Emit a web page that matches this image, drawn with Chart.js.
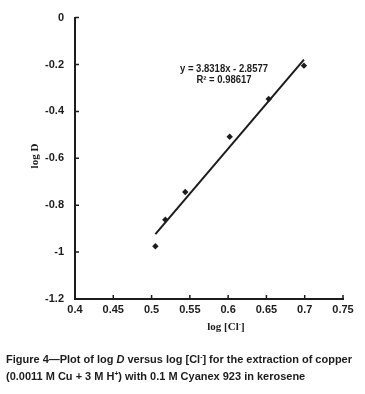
<!DOCTYPE html>
<html>
<head>
<meta charset="utf-8">
<script src="https://cdn.jsdelivr.net/npm/chart.js@4.4.0/dist/chart.umd.min.js"></script>
<style>
  body { margin: 0; background: #fff; }
  #wrap { width: 365px; height: 394px; }
</style>
</head>
<body>
<div id="wrap"><canvas id="myChart" width="365" height="394"></canvas></div>
<script>
// data
var logCl = [0.505, 0.518, 0.544, 0.602, 0.653, 0.699];
var logD = [-0.975, -0.862, -0.744, -0.508, -0.347, -0.205];
// linear trend line end points
var fitX = [0.505, 0.699];
var fitY = [-0.923, -0.179];
var fitText = ["y = 3.8318x - 2.8577", "R\u00B2 = 0.98617"];
var xTickValues = [0.4, 0.45, 0.5, 0.55, 0.6, 0.65, 0.7, 0.75];
var yTickValues = [0, -0.2, -0.4, -0.6, -0.8, -1, -1.2];

var ink = "#1c1c1c";

// draws runs of text [string, font, dy] and returns width
function runs(ctx, parts, x, y, draw) {
	var w = 0;
	for (var i = 0; i < parts.length; i++) {
		ctx.font = parts[i][1];
		if (draw) ctx.fillText(parts[i][0], x + w, y + (parts[i][2] || 0));
		w += ctx.measureText(parts[i][0]).width;
	}
	return w;
}

function plainNum(v) {
	return String(parseFloat(Number(v).toFixed(2)));
}

var extras = {
	id: "extras",
	afterDatasetsDraw: function(chart) {
		var ctx = chart.ctx;
		var xs = chart.scales.x, ys = chart.scales.y;
		var area = chart.chartArea;
		ctx.save();
		// inside tick marks
		ctx.strokeStyle = ink;
		ctx.lineWidth = 1.5;
		ctx.beginPath();
		xTickValues.forEach(function(v) {
			var px = xs.getPixelForValue(v);
			ctx.moveTo(px, area.bottom);
			ctx.lineTo(px, area.bottom - 4);
		});
		yTickValues.forEach(function(v) {
			var py = ys.getPixelForValue(v);
			ctx.moveTo(area.left, py);
			ctx.lineTo(area.left + 4, py);
		});
		ctx.stroke();

		// trend equation
		ctx.fillStyle = ink;
		ctx.textAlign = "center";
		ctx.textBaseline = "alphabetic";
		ctx.font = "bold 10px 'Liberation Sans', Arial, sans-serif";
		ctx.fillText(fitText[0], 224, 72, 88);
		ctx.fillText(fitText[1], 224, 82.5, 55);

		// axis titles
		ctx.textAlign = "left";
		var serif = "bold 11px 'Liberation Serif', 'Times New Roman', serif";
		var serifSup = "bold 7px 'Liberation Serif', 'Times New Roman', serif";
		var xt = [["log [Cl", serif], ["-", serifSup, -4], ["]", serif]];
		var w = runs(ctx, xt, 0, 0, false);
		runs(ctx, xt, 226 - w / 2, 330, true);

		ctx.save();
		ctx.translate(38, 156);
		ctx.rotate(-Math.PI / 2);
		ctx.textAlign = "center";
		ctx.font = serif;
		ctx.fillText("log D", 0, 0);
		ctx.restore();

		// caption
		var b = "bold 11.5px 'Liberation Sans', Arial, sans-serif";
		var bi = "italic bold 11.5px 'Liberation Sans', Arial, sans-serif";
		var sup = "bold 7px 'Liberation Sans', Arial, sans-serif";
		var line1 = [["Figure 4\u2014Plot of log ", b], ["D", bi], [" versus log [Cl", b], ["-", sup, -4], ["] for the extraction of copper", b]];
		var line2 = [["(0.0011 M Cu + 3 M H", b], ["+", sup, -4], [") with 0.1 M Cyanex 923 in kerosene", b]];
		var w1 = runs(ctx, line1, 0, 0, false);
		var sx = 346 / w1;
		ctx.save();
		ctx.translate(6, 0);
		ctx.scale(sx, 1);
		runs(ctx, line1, 0, 363, true);
		runs(ctx, line2, 0, 380, true);
		ctx.restore();
		ctx.restore();
	}
};

var ctx = document.getElementById("myChart");

var tickFont = { family: "'Liberation Sans', Arial, sans-serif", size: 11, weight: "bold" };

var myChart = new Chart(ctx, {
	data: {
		datasets: [
			{
				type: "scatter",
				label: "log D",
				data: logCl.map(function(x, i) { return {x: x, y: logD[i]}; }),
				pointStyle: "rectRot",
				pointRadius: 3.2,
				backgroundColor: ink,
				borderColor: ink,
				borderWidth: 0
			},
			{
				type: "line",
				label: "Linear",
				data: fitX.map(function(x, i) { return {x: x, y: fitY[i]}; }),
				borderColor: ink,
				borderWidth: 2,
				pointRadius: 0,
				fill: false
			}
		]
	},
	options: {
		responsive: false,
		animation: false,
		layout: { padding: { top: 11, right: 22, left: 0, bottom: 0 } },
		plugins: { legend: { display: false }, tooltip: { enabled: false } },
		scales: {
			x: {
				type: "linear",
				min: 0.4,
				max: 0.75,
				afterBuildTicks: function(s) { s.ticks = xTickValues.map(function(v) { return {value: v}; }); },
				afterFit: function(s) { s.height = 95; },
				grid: { display: false, drawTicks: false },
				border: { display: true, color: ink, width: 2 },
				ticks: { padding: 4, color: ink, font: tickFont, callback: plainNum }
			},
			y: {
				type: "linear",
				min: -1.2,
				max: 0,
				afterBuildTicks: function(s) { s.ticks = yTickValues.map(function(v) { return {value: v}; }); },
				afterFit: function(s) { s.width = 75; },
				grid: { display: false, drawTicks: false },
				border: { display: true, color: ink, width: 2 },
				ticks: { padding: 11, color: ink, font: tickFont, callback: plainNum }
			}
		}
	},
	plugins: [extras]
});
</script>
</body>
</html>
